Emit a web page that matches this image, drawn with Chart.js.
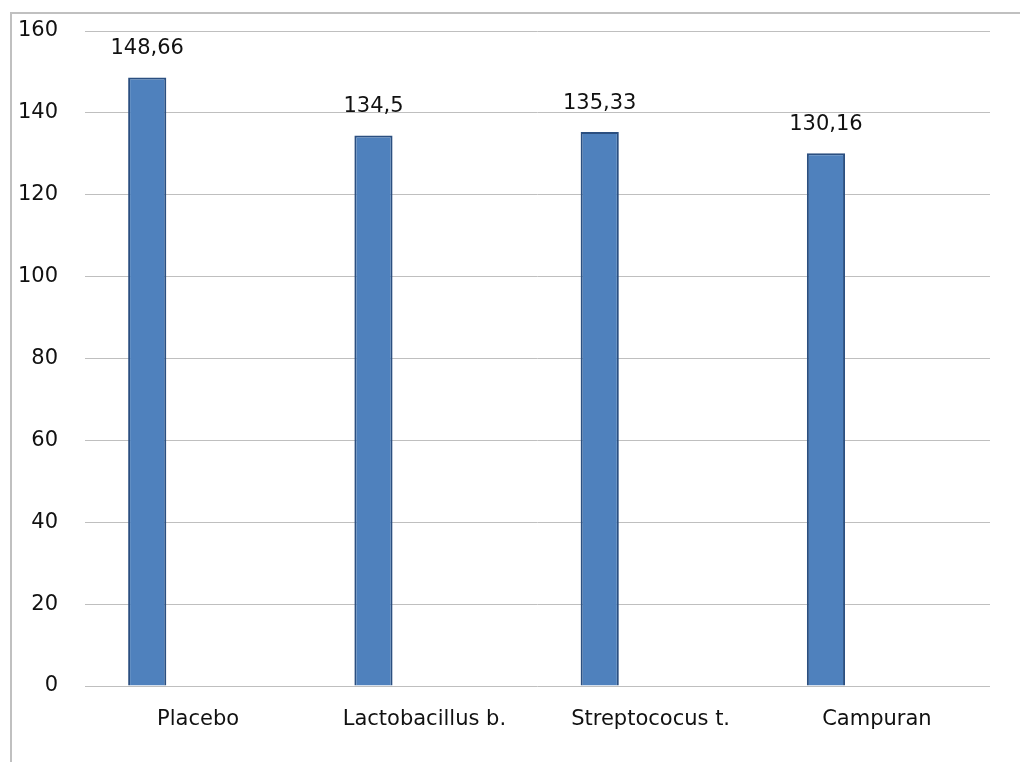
<!DOCTYPE html>
<html>
<head>
<meta charset="utf-8">
<script src="https://cdn.jsdelivr.net/npm/chart.js@4.4.0/dist/chart.umd.min.js"></script>
<style>
  html, body { margin: 0; padding: 0; background: #fff; }
  #wrap { position: relative; width: 1024px; height: 762px; }
  #frame { position: absolute; left: 10px; top: 12px; width: 1010px; height: 750px;
           border-left: 2px solid #c0c0c0; border-top: 2px solid #c0c0c0; box-sizing: border-box; }
  canvas { position: absolute; left: 0; top: 0; }
</style>
</head>
<body>
<div id="wrap">
  <div id="frame"></div>
  <canvas id="c" width="1024" height="762"></canvas>
</div>
<script>
const categories = ["Placebo", "Lactobacillus b.", "Streptococus t.", "Campuran"];
const values = [148.66, 134.5, 135.33, 130.16];
const emptySeries = [null, null, null, null];
const yTicks = [0, 20, 40, 60, 80, 100, 120, 140, 160];

const FONT = "'DejaVu Sans', sans-serif";

const valueLabels = {
  id: 'valueLabels',
  afterDatasetsDraw(chart) {
    const ctx = chart.ctx;
    const meta = chart.getDatasetMeta(0);
    ctx.save();
    ctx.font = "21px " + FONT;
    ctx.fillStyle = "#111111";
    ctx.textAlign = "center";
    ctx.textBaseline = "bottom";
    meta.data.forEach((bar, i) => {
      const v = chart.data.datasets[0].data[i];
      ctx.fillText(String(v).replace('.', ','), bar.x, bar.y - 18);
    });
    ctx.restore();
  }
};

new Chart(document.getElementById('c'), {
  type: 'bar',
  data: {
    labels: categories,
    datasets: [
      { data: values, backgroundColor: '#4f81bd', borderColor: '#2b4f80', borderWidth: 2,
        categoryPercentage: 0.9, barPercentage: 0.375 },
      { data: emptySeries, backgroundColor: '#c0504d',
        categoryPercentage: 0.9, barPercentage: 0.375 }
    ]
  },
  options: {
    responsive: false,
    animation: false,
    devicePixelRatio: 1,
    layout: { padding: { top: 31, right: 34, left: 0, bottom: 0 } },
    plugins: { legend: { display: false }, tooltip: { enabled: false } },
    scales: {
      x: {
        grid: { display: false, drawTicks: false },
        border: { display: false },
        ticks: { color: '#111111', font: { family: FONT, size: 21 }, padding: 21, maxRotation: 0 },
        afterFit(scale) { scale.height = 76; scale.paddingLeft = 0; scale.paddingRight = 0; }
      },
      y: {
        min: 0, max: 160,
        afterBuildTicks(scale) { scale.ticks = yTicks.map(v => ({ value: v })); },
        grid: { color: '#bfbfbf', lineWidth: 1, drawTicks: false },
        border: { display: false },
        ticks: { color: '#111111', font: { family: FONT, size: 21 }, padding: 27 },
        afterFit(scale) { scale.width = 85; scale.paddingTop = 0; scale.paddingBottom = 0; }
      }
    }
  },
  plugins: [valueLabels]
});
</script>
</body>
</html>
